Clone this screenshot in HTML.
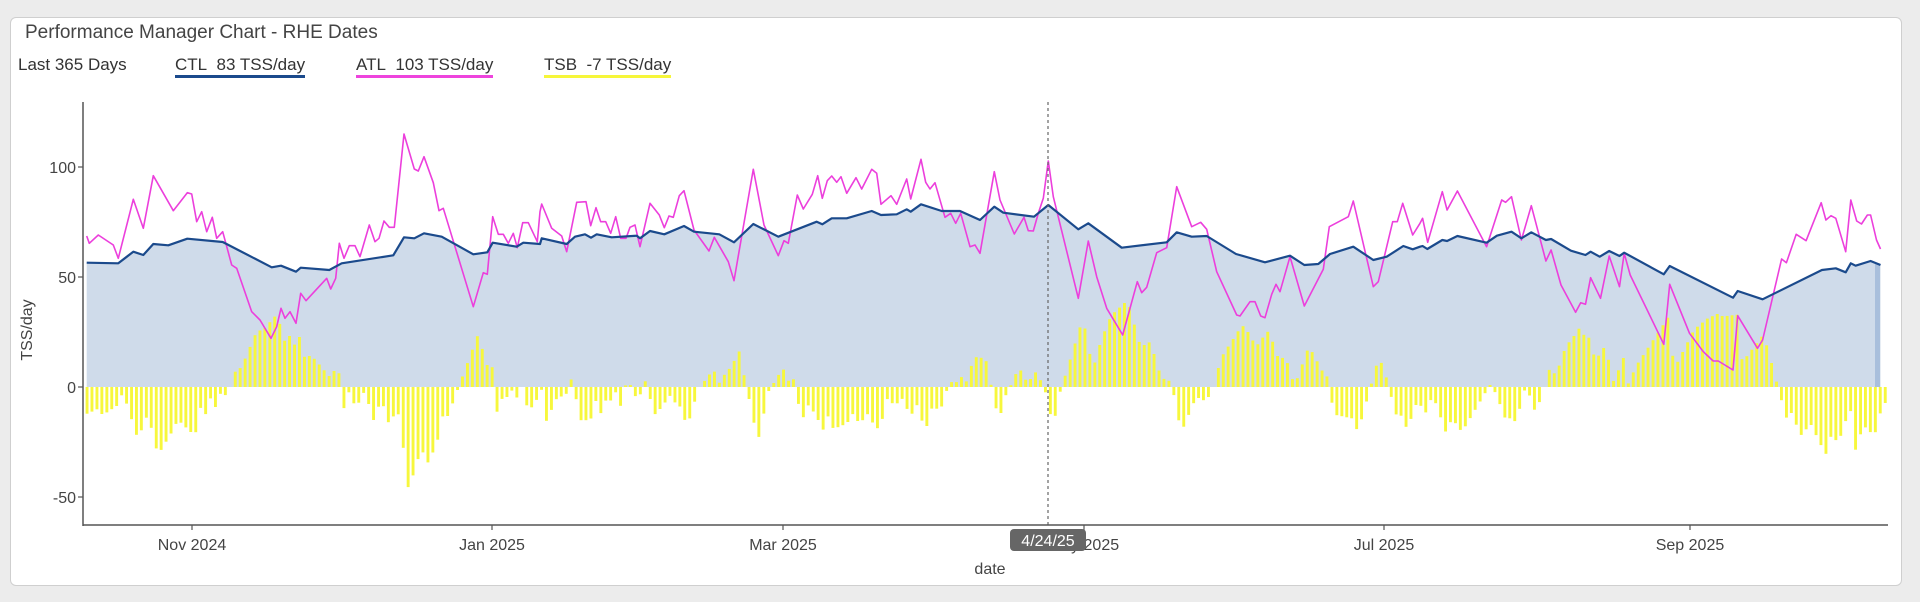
<!DOCTYPE html>
<html><head><meta charset="utf-8"><style>
html,body{margin:0;padding:0;background:#ececec;width:1920px;height:602px;overflow:hidden;font-family:"Liberation Sans",Arial,sans-serif;}
.card{position:absolute;left:10px;top:17px;width:1890px;height:567px;background:#fff;border:1px solid #cfcfcf;border-radius:6px;}
.t{position:absolute;left:25px;top:22px;font-size:19px;color:#444;}
.lg{position:absolute;top:55px;font-size:17px;color:#333;white-space:nowrap;}
.u{padding-bottom:1px;border-bottom:3px solid;}
svg{position:absolute;left:0;top:0;}
</style></head><body>
<div class="card"></div>
<div class="t">Performance Manager Chart - RHE Dates</div>
<div class="lg" style="left:18px">Last 365 Days</div>
<div class="lg" style="left:175px"><span class="u" style="border-color:#1b4a8c">CTL&nbsp; 83 TSS/day</span></div>
<div class="lg" style="left:356px"><span class="u" style="border-color:#ee44dd">ATL&nbsp; 103 TSS/day</span></div>
<div class="lg" style="left:544px"><span class="u" style="border-color:#f6f63a">TSB&nbsp; -7 TSS/day</span></div>
<svg id="s" width="1920" height="602" xmlns="http://www.w3.org/2000/svg" font-family="Liberation Sans, Arial, sans-serif">
<g id="area"></g><g id="bars"></g><g id="lines"></g>
<line x1="1048" y1="102" x2="1048" y2="525" stroke="#666" stroke-width="1.2" stroke-dasharray="3,3"/>
<line x1="83" y1="102" x2="83" y2="526" stroke="#555" stroke-width="1.5"/>
<line x1="83" y1="525" x2="1888" y2="525" stroke="#555" stroke-width="1.5"/>
<g stroke="#555" stroke-width="1.2">
<line x1="78" y1="167" x2="83" y2="167"/><line x1="78" y1="277" x2="83" y2="277"/><line x1="78" y1="387" x2="83" y2="387"/><line x1="78" y1="497" x2="83" y2="497"/>
<line x1="192" y1="525" x2="192" y2="530"/><line x1="492" y1="525" x2="492" y2="530"/><line x1="783" y1="525" x2="783" y2="530"/><line x1="1084" y1="525" x2="1084" y2="530"/><line x1="1384" y1="525" x2="1384" y2="530"/><line x1="1690" y1="525" x2="1690" y2="530"/>
</g>
<g font-size="16" fill="#444" text-anchor="end">
<text x="76" y="173">100</text><text x="76" y="283">50</text><text x="76" y="393">0</text><text x="76" y="503">-50</text>
</g>
<g font-size="16" fill="#444" text-anchor="middle">
<text x="192" y="550">Nov 2024</text><text x="492" y="550">Jan 2025</text><text x="783" y="550">Mar 2025</text><text x="1084" y="550">May 2025</text><text x="1384" y="550">Jul 2025</text><text x="1690" y="550">Sep 2025</text>
<text x="990" y="574">date</text>
<text transform="translate(32,330) rotate(-90)">TSS/day</text>
</g>
<rect x="1010" y="529" width="76" height="22" rx="4" fill="#666"/>
<text x="1048" y="546" font-size="16" fill="#fff" text-anchor="middle">4/24/25</text>
</svg>
<script>
function cv(arr,x0,y0,sx,sy,lo,hi){var r=[];for(var i=0;i<arr.length;i+=2){var X=x0+arr[i]/sx,Y=y0+arr[i+1]/sy;if(X>=lo&&X<=hi)r.push([X,Y]);}return r;}
var A4=[20,378,28,400,55,375,100,405,115,445,160,268,190,355,220,197,280,302,322,248,335,252,350,335,365,305,380,365,397,322,410,385,428,365,455,465,470,475,515,605,540,630,573,685,590,650,603,595,615,625,630,605,648,640,662,550,678,572,740,505,752,537,767,505,778,400,792,445,808,407,825,407,840,440,868,345,885,395,897,385,912,333,928,352,943,352,972,72,1003,177,1015,183,1032,140,1060,218,1077,302,1090,295,1180,590,1210,488,1222,493,1238,320,1255,373,1270,373,1285,400,1300,370,1312,413,1328,338,1345,338,1372,395,1380,305];
var C4=[20,458,115,460,160,425,190,435,220,402,265,406,322,386,428,396,575,472,603,467,648,485,662,473,748,480,785,460,940,436,972,382,1003,385,1032,370,1085,380,1180,433,1222,427,1238,398,1310,410,1330,398,1380,402];
var A5=[0,345,8,340,22,340,50,393,65,282,95,355,125,378,140,425,170,277,198,275,212,347,228,293,242,335,257,335,272,370,287,320,302,385,318,385,330,352,345,345,360,410,390,280,418,315,433,353,447,318,460,322,478,257,492,242,522,360,567,423,583,382,625,455,642,512,700,178,732,345,775,437,792,392,805,400,832,255,850,297,877,253,893,197,907,265,922,212,935,198,950,217,963,200,980,250,1008,203,1025,237,1055,178,1070,190,1083,283,1113,257,1130,283,1160,207,1172,267,1203,148,1217,217,1230,237,1245,218,1275,322,1292,310,1307,340,1322,310,1350,410,1365,405,1380,430];
var C5=[0,400,50,405,65,385,140,402,165,380,195,373,213,383,230,373,275,382,350,377,360,385,390,363,433,373,492,348,522,365,598,373,642,397,700,342,775,380,890,335,907,343,935,325,980,325,1055,303,1083,315,1130,313,1160,298,1172,305,1203,283,1265,303,1320,303,1380,330];
var A6=[0,310,30,408,45,404,60,430,103,185,120,270,163,372,192,322,205,362,220,363,235,310,250,265,265,153,280,260,355,565,385,393,410,500,440,595,488,675,532,515,545,548,560,532,590,428,620,413,650,230,695,350,722,337,740,358,770,485,830,615,840,618,870,575,885,575,902,618,915,623,935,553,948,523,960,545,990,440,1033,588,1090,478,1108,350,1165,320,1180,273,1240,530,1255,515,1298,335,1312,335,1328,280,1358,375,1380,340];
var C6=[0,302,58,328,103,290,130,308,222,320,265,285,355,358,385,340,485,413,620,397,650,367,695,380,740,378,828,432,915,457,990,437,1033,465,1075,462,1110,432,1180,410,1240,450,1280,440,1330,408,1358,418,1380,410];
var A3=[0,415,12,465,62,350,75,230,125,197,137,153,162,290,187,410,200,395,235,215,247,215,262,158,285,253,310,205,323,277,360,125,372,180,398,123,472,290,510,150,520,157,535,140,560,270,585,167,622,333,635,300,660,405,697,487,710,458,722,463,735,383,760,445,782,318,808,410,820,310,835,375,920,583,935,403,985,550,1020,605,1045,633,1058,633,1095,660,1107,497,1157,595,1170,570,1218,327,1230,338,1255,253,1280,272,1318,158,1330,210,1343,197,1355,205,1380,305,1393,150,1408,213,1420,222,1435,195,1443,195,1458,270,1468,297];
var C3=[0,340,12,345,50,340,75,315,135,292,187,328,220,318,262,288,285,298,310,288,322,297,360,270,372,273,398,258,472,278,498,257,535,245,560,265,585,247,622,270,635,267,685,302,722,315,735,305,758,320,782,303,808,318,820,308,920,373,935,348,1095,443,1107,423,1170,448,1320,360,1355,355,1380,367,1393,340,1405,347,1443,333,1468,345];
var ATL=[].concat(cv(A4,80,110,3,3,0,540),cv(A5,520,110,3,3,540.01,980),cv(A6,960,110,3,3,980.01,1420),cv(A3,1300,150,2.529,3,1420.01,2000));
var CTL=[].concat(cv(C4,80,110,3,3,0,540),cv(C5,520,110,3,3,540.01,980),cv(C6,960,110,3,3,980.01,1420),cv(C3,1300,150,2.529,3,1420.01,2000));
function at(p,x){if(x<=p[0][0])return p[0][1];for(var i=1;i<p.length;i++){if(x<=p[i][0]){var a=p[i-1],b=p[i];return a[1]+(b[1]-a[1])*(x-a[0])/(b[0]-a[0]);}}return p[p.length-1][1];}
function pts(p){return p.map(function(q){return q[0].toFixed(1)+','+q[1].toFixed(1)}).join(' ');}
var NS='http://www.w3.org/2000/svg';
function el(t,a,par){var e=document.createElementNS(NS,t);for(var k in a)e.setAttribute(k,a[k]);document.getElementById(par).appendChild(e);return e;}
var ap=[[CTL[0][0],387]].concat(CTL).concat([[CTL[CTL.length-1][0],387]]);
el('polygon',{points:pts(ap),fill:'#cfdbea'},'area');
el('rect',{x:1875,y:at(CTL,1877),width:5,height:387-at(CTL,1877),fill:'#a9bfdc'},'area');
for(var i=0;i<365;i++){var x=87+i*4.94;var xs=x-4.5;var v=at(ATL,xs)-at(CTL,xs);if(Math.abs(v)<1.5)continue;var y=v>0?387-v:387;el('rect',{x:(x-1.4).toFixed(1),y:y.toFixed(1),width:2.9,height:Math.abs(v).toFixed(1),fill:'#f7f73c'},'bars');}
el('polyline',{points:pts(ATL),fill:'none',stroke:'#ec3fdc','stroke-width':1.6,'stroke-linejoin':'round'},'lines');
el('polyline',{points:pts(CTL),fill:'none',stroke:'#1b4a8c','stroke-width':2.2,'stroke-linejoin':'round'},'lines');
</script>
</body></html>
